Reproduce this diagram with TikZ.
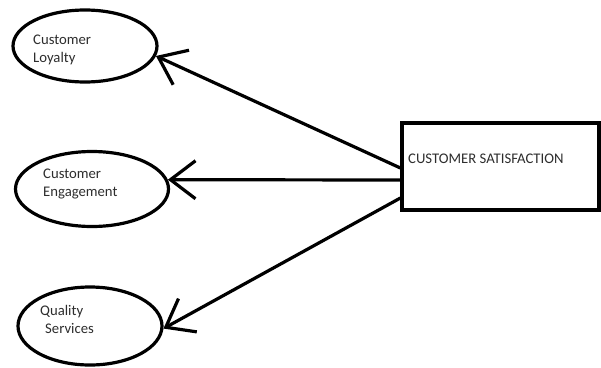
\documentclass[tikz,border=0pt]{standalone}
\usepackage{fontspec}
\setmainfont{Carlito}
\usetikzlibrary{shapes.geometric,arrows.meta}
\definecolor{labelgray}{RGB}{45,45,45}
\tikzset{
    outcome/.style={draw,ellipse,line width=3.2pt,inner sep=0pt},
    sat/.style={draw,rectangle,line width=3.2pt,inner sep=0pt},
    lbl/.style={anchor=base west,inner sep=0pt,text=labelgray,font=\fontsize{14.7}{18}\selectfont,align=left},
    arr/.style={line width=3.2pt,-{Straight Barb[length=25pt,width=38pt,line width=3.2pt]}}
}

\begin{document}
\begin{tikzpicture}[x=1pt,y=-1pt]
    \useasboundingbox (0,0) rectangle (601,367);
    % outcomes
    \node[outcome,minimum width=144pt,minimum height=72pt] (loyalty) at (85,46) {};
    \node[outcome,minimum width=153pt,minimum height=75pt] (engage) at (92,189) {};
    \node[outcome,minimum width=144pt,minimum height=78pt] (quality) at (90,326) {};
    \node[lbl] (loyaltytext) at (33,62) {Customer\\Loyalty};
    \node[lbl] (engagetext) at (43,196) {Customer\\Engagement};
    \node[lbl] (qualitytext) at (40,333) {Quality\\\hspace*{5pt}Services};
    % satisfaction
    \node[sat,minimum width=197pt,minimum height=87pt] (satisf) at (500.5,166.5) {};
    \node[lbl] (satisftext) at (408,163) {CUSTOMER SATISFACTION};
    \draw[arr] ([yshift=-1.5pt]satisf.west) -- (loyalty.-8);
    \draw[arr] ([yshift=-13.5pt]satisf.west) -- (engage.7);
    \draw[arr] ([yshift=-31.5pt]satisf.west) -- (quality.-2);
\end{tikzpicture}
\end{document}
